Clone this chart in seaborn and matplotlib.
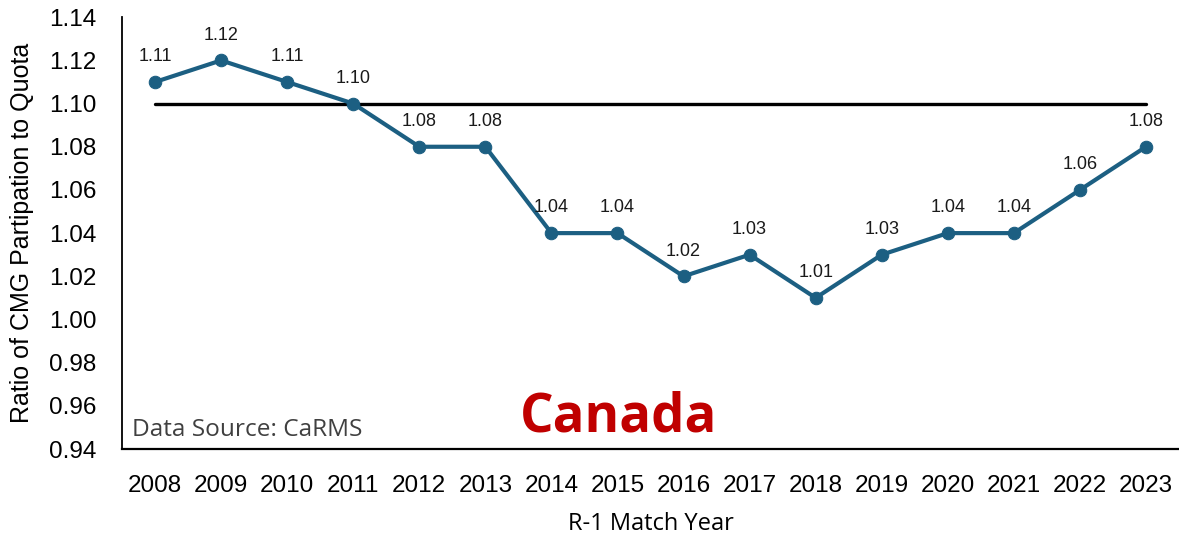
import pandas as pd
import seaborn as sns
import matplotlib.pyplot as plt

years = ['2008', '2009', '2010', '2011', '2012', '2013', '2014', '2015',
         '2016', '2017', '2018', '2019', '2020', '2021', '2022', '2023']
ratio = [1.11, 1.12, 1.11, 1.10, 1.08, 1.08, 1.04, 1.04,
         1.02, 1.03, 1.01, 1.03, 1.04, 1.04, 1.06, 1.08]
target = 1.10
yticks = [0.94, 0.96, 0.98, 1.00, 1.02, 1.04, 1.06, 1.08, 1.10, 1.12, 1.14]

df = pd.DataFrame({'year': years, 'ratio': ratio})

sns.set_style('white')
plt.rcParams['font.family'] = ['Liberation Sans', 'DejaVu Sans']
plt.rcParams['text.color'] = 'black'
plt.rcParams['axes.labelcolor'] = 'black'
plt.rcParams['xtick.color'] = 'black'
plt.rcParams['ytick.color'] = 'black'

fig = plt.figure(figsize=(11.79, 5.38), dpi=100)
ax = fig.add_axes([0.1035, 0.1654, 0.8965, 0.8026])

line_col = '#1c5f82'
# target reference line
ax.plot([0, len(years) - 1], [target, target], color='black', lw=2.4, zorder=1)
sns.lineplot(data=df, x='year', y='ratio', ax=ax, color=line_col, lw=3,
             marker='o', markersize=9, markeredgecolor=line_col, zorder=3)

for i, v in enumerate(ratio):
    ax.annotate(f'{v:.2f}', (i, v), xytext=(0, 12), textcoords='offset points',
                ha='center', va='bottom', fontsize=13, color='#1a1a1a')

ax.set_xlim(-0.5, len(years) - 0.5)
ax.set_ylim(0.94, 1.14)
ax.set_yticks(yticks)
ax.set_yticklabels([f'{t:.2f}' for t in yticks])
ax.tick_params(axis='y', labelsize=17.5, pad=15)
ax.tick_params(axis='x', labelsize=17.5, pad=15)

ax.set_ylabel('Ratio of CMG Partipation to Quota', fontsize=18, labelpad=11)
ax.set_xlabel('R-1 Match Year', fontsize=17, family=['Open Sans', 'DejaVu Sans'],
              labelpad=11)

for s in ['top', 'right']:
    ax.spines[s].set_visible(False)
ax.spines['left'].set_color('black')
ax.spines['left'].set_linewidth(1.3)
ax.spines['bottom'].set_color('black')
ax.spines['bottom'].set_linewidth(1.6)

ax.text(0.009, 0.03, 'Data Source: CaRMS', transform=ax.transAxes,
        fontsize=17.6, color='#404040', family=['Open Sans', 'DejaVu Sans'])
ax.text(0.47, 0.04, 'Canada', transform=ax.transAxes, ha='center',
        fontsize=38, fontweight='bold', color='#c00000',
        family=['Open Sans', 'DejaVu Sans'])

fig.savefig('out.png', dpi=100)
